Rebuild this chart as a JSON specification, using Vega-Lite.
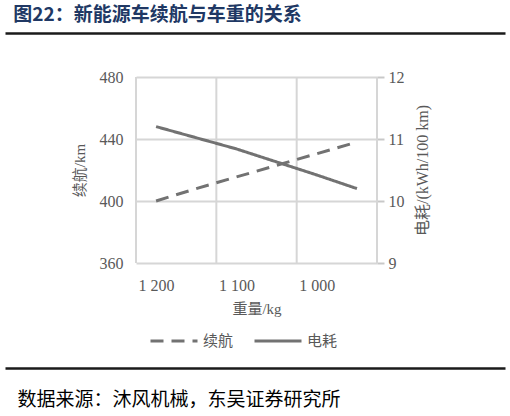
{
  "$schema": "https://vega.github.io/schema/vega-lite/v6.json",
  "description": "新能源车续航与车重的关系",
  "width": 241,
  "height": 186,
  "autosize": {"type": "none"},
  "padding": {"left": 136, "top": 77, "right": 133, "bottom": 153},
  "title": {
    "text": "图22：新能源车续航与车重的关系",
    "anchor": "start",
    "frame": "bounds",
    "dx": 11,
    "offset": 8,
    "font": "Noto Sans CJK SC",
    "fontSize": 19,
    "fontWeight": "bold",
    "color": "#203864"
  },
  "datasets": {
    "weight": [
      {"w": 1200, "range": 400, "cons": 11.2},
      {"w": 1150, "range": 408, "cons": 11.02},
      {"w": 1100, "range": 415.5, "cons": 10.84},
      {"w": 1050, "range": 423, "cons": 10.63},
      {"w": 1000, "range": 430.5, "cons": 10.42},
      {"w": 950, "range": 438, "cons": 10.2}
    ],
    "grid": [{"w": 1225}, {"w": 1125}, {"w": 1025}, {"w": 925}],
    "frame": [{"s": 0}, {"s": 1}]
  },
  "layer": [
    {
      "layer": [
        {
          "data": {"name": "grid"},
          "mark": {"type": "rule", "color": "#d6d6d6", "strokeWidth": 2},
          "encoding": {
            "x": {
              "field": "w",
              "type": "quantitative",
              "scale": {"domain": [925, 1225], "reverse": true, "nice": false, "zero": false},
              "axis": {
                "values": [1200, 1100, 1000],
                "labelExpr": "replace(format(datum.value, ','), ',', ' ')",
                "grid": false,
                "ticks": false,
                "tickSize": 0,
                "domain": false,
                "labelPadding": 14,
                "labelFontSize": 16,
                "title": "重量/kg",
                "titleFontSize": 15,
                "titlePadding": 8
              }
            }
          }
        },
        {
          "data": {"name": "weight"},
          "mark": {"type": "line", "color": "#727272", "strokeWidth": 3},
          "encoding": {
            "x": {"field": "w", "type": "quantitative"},
            "y": {
              "field": "range",
              "type": "quantitative",
              "scale": {"domain": [360, 480], "nice": false, "zero": false},
              "axis": {
                "orient": "left",
                "values": [360, 400, 440, 480],
                "grid": true,
                "gridColor": "#d6d6d6",
                "gridWidth": 2,
                "ticks": false,
                "tickSize": 0,
                "domain": false,
                "labelPadding": 13,
                "labelFontSize": 16,
                "title": "续航/km",
                "titleFontSize": 15,
                "titlePadding": 12
              }
            },
            "strokeDash": {
              "datum": "续航",
              "type": "nominal",
              "scale": {"domain": ["续航", "电耗"], "range": [[13, 8], [1, 0]]},
              "legend": {
                "orient": "none",
                "legendX": 13,
                "legendY": 239,
                "direction": "horizontal",
                "title": null,
                "symbolType": "stroke",
                "symbolSize": 2209,
                "symbolStrokeWidth": 3,
                "symbolStrokeColor": "#727272",
                "labelFont": "Noto Sans CJK SC",
                "labelFontSize": 15,
                "labelColor": "#595959",
                "labelOffset": 4,
                "columnPadding": 14
              }
            }
          }
        },
        {
          "data": {"name": "weight"},
          "mark": {"type": "line", "color": "#727272", "strokeWidth": 3},
          "encoding": {
            "x": {"field": "w", "type": "quantitative"},
            "y": {
              "field": "cons",
              "type": "quantitative",
              "scale": {"domain": [9, 12], "nice": false, "zero": false},
              "axis": {
                "orient": "right",
                "values": [9, 10, 11, 12],
                "grid": false,
                "ticks": true,
                "tickSize": 7,
                "tickWidth": 2,
                "tickColor": "#c8c8c8",
                "domain": false,
                "labelPadding": 4,
                "labelFontSize": 16,
                "title": "电耗/(kWh/100 km)",
                "titleFontSize": 16,
                "titleAngle": 270,
                "titlePadding": 26
              }
            },
            "strokeDash": {"datum": "电耗", "type": "nominal"}
          }
        }
      ],
      "resolve": {"scale": {"y": "independent"}}
    },
    {
      "data": {"name": "frame"},
      "mark": {"type": "point", "opacity": 0},
      "encoding": {
        "x": {
          "field": "s",
          "type": "quantitative",
          "scale": {"domain": [0, 1], "range": [-131, 369], "nice": false},
          "axis": {
            "orient": "top",
            "offset": 44,
            "labels": false,
            "ticks": false,
            "grid": false,
            "domainColor": "#1a1a1a",
            "domainWidth": 2.5,
            "title": null
          }
        }
      }
    },
    {
      "data": {"name": "frame"},
      "mark": {"type": "point", "opacity": 0},
      "encoding": {
        "x": {
          "field": "s",
          "type": "quantitative",
          "scale": {"domain": [0, 1], "range": [-131, 369], "nice": false},
          "axis": {
            "orient": "bottom",
            "offset": 105,
            "labels": false,
            "ticks": false,
            "grid": false,
            "domainColor": "#1a1a1a",
            "domainWidth": 2.5,
            "title": "数据来源：沐风机械，东吴证券研究所",
            "titleAnchor": "start",
            "titleX": -119,
            "titleAlign": "left",
            "titleFont": "Noto Sans CJK SC",
            "titleFontSize": 19,
            "titleColor": "#000000",
            "titlePadding": 22
          }
        }
      }
    }
  ],
  "resolve": {"scale": {"x": "independent"}},
  "config": {
    "view": {"stroke": null},
    "axis": {
      "labelFont": "Liberation Serif",
      "labelColor": "#595959",
      "titleFont": "Liberation Serif, Noto Sans CJK SC",
      "titleColor": "#595959",
      "titleFontWeight": "normal"
    }
  }
}
